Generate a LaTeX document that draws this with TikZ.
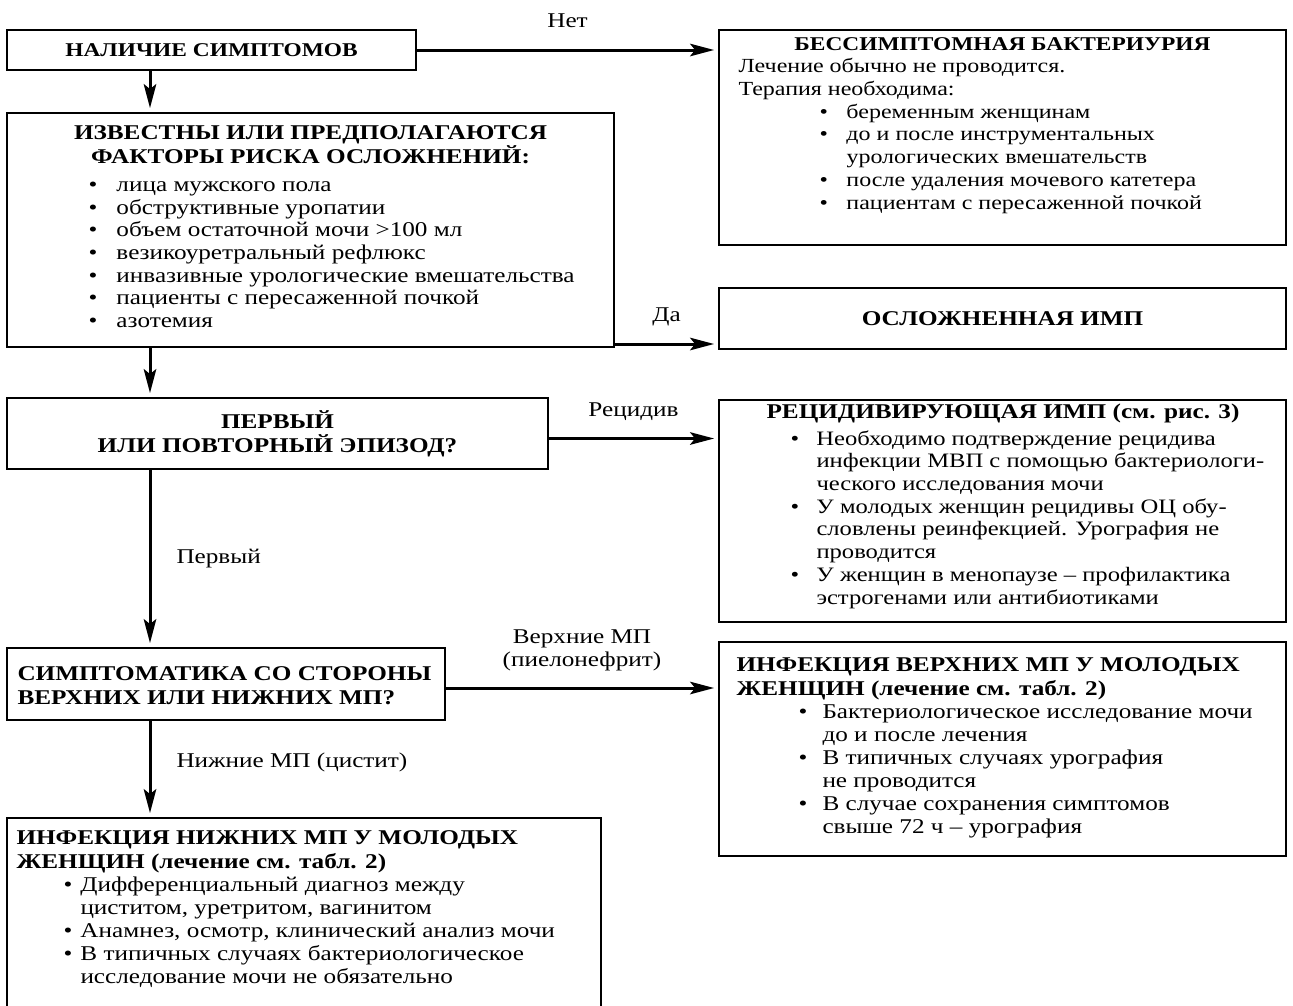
\documentclass[tikz,border=0pt]{standalone}
\usepackage{fontspec}
\setmainfont{Liberation Serif}[FakeStretch=1.2]
\usetikzlibrary{arrows.meta,calc,positioning}

\newcommand{\bul}[1][27pt]{\makebox[#1][l]{\textbullet}}

\begin{document}
\begin{tikzpicture}[x=1pt,y=-1pt,->,>={Stealth[length=24pt,width=12.5pt,inset=5pt]},
  shorten >=3.5pt,line width=3pt,
  box/.style={draw,line width=2.8pt,inner sep=0pt},
  head/.style={font=\bfseries\fontsize{21}{24}\selectfont,align=center,inner sep=0pt},
  headsm/.style={head,font=\bfseries\fontsize{19.5}{24}\selectfont},
  body/.style={font=\fontsize{21}{23}\selectfont,align=left,inner sep=0pt},
  lbl/.style={font=\fontsize{21}{22.7}\selectfont,inner sep=0pt,text height=14pt,text depth=4pt}]

\useasboundingbox (0,0) rectangle (1293,1005);

% boxes
\node[box,headsm,minimum width=409,minimum height=40](sympt) at (211.5,50) {НАЛИЧИЕ СИМПТОМОВ};
\node[box,minimum width=567,minimum height=215](asb) at (1002.5,137.5) {};
\node[box,minimum width=607,minimum height=234](risk) at (310.5,230) {};
\node[box,head,minimum width=567,minimum height=61](compl) at (1002.5,318.5) {ОСЛОЖНЕННАЯ ИМП};
\node[box,head,minimum width=541,minimum height=71](first) at (277.5,433.5) {ПЕРВЫЙ\\ИЛИ ПОВТОРНЫЙ ЭПИЗОД?};
\node[box,minimum width=567,minimum height=222](recur) at (1002.5,511) {};
\node[box,minimum width=438,minimum height=72](side) at (226,684) {};
\node[box,minimum width=567,minimum height=214](upper) at (1002.5,749) {};
\node[box,minimum width=594,minimum height=197](lower) at (304,916.5) {};

% texts in the boxes
\node[headsm](asbT) at (1002.5,44) {БЕССИМПТОМНАЯ БАКТЕРИУРИЯ};
\node[body,font=\fontsize{20}{22.7}\selectfont,anchor=north west](asbL) at (737,57) {Лечение обычно не проводится.\\
  Терапия необходима:\\
  \hspace*{81pt}\bul беременным женщинам\\
  \hspace*{81pt}\bul до и после инструментальных\\
  \hspace*{108pt}урологических вмешательств\\
  \hspace*{81pt}\bul после удаления мочевого катетера\\
  \hspace*{81pt}\bul пациентам с пересаженной почкой};

\node[head](riskT) at (310.5,145) {ИЗВЕСТНЫ ИЛИ ПРЕДПОЛАГАЮТСЯ\\ФАКТОРЫ РИСКА ОСЛОЖНЕНИЙ:};
\node[body,font=\fontsize{21}{22.7}\selectfont,anchor=north west](riskL) at (87,180) {\bul[28pt]лица мужского пола\\
  \bul[28pt]обструктивные уропатии\\
  \bul[28pt]объем остаточной мочи >100 мл\\
  \bul[28pt]везикоуретральный рефлюкс\\
  \bul[28pt]инвазивные урологические вмешательства\\
  \bul[28pt]пациенты с пересаженной почкой\\
  \bul[28pt]азотемия};

\node[head](recT) at (1003,413) {РЕЦИДИВИРУЮЩАЯ ИМП (см. рис. 3)};
\node[body,font=\fontsize{20.5}{22.7}\selectfont,anchor=north west](recL) at (789,429) {\bul[26pt]Необходимо подтверждение рецидива\\
  \hspace*{26pt}инфекции МВП с помощью бактериологи-\\
  \hspace*{26pt}ческого исследования мочи\\
  \bul[26pt]У молодых женщин рецидивы ОЦ обу-\\
  \hspace*{26pt}словлены реинфекцией. Урография не\\
  \hspace*{26pt}проводится\\
  \bul[26pt]У женщин в менопаузе – профилактика\\
  \hspace*{26pt}эстрогенами или антибиотиками};

\node[head,align=left,anchor=west](sideT) at (16,686) {СИМПТОМАТИКА СО СТОРОНЫ\\ВЕРХНИХ ИЛИ НИЖНИХ МП?};

\node[head,align=left,anchor=north west](upT) at (735,656) {ИНФЕКЦИЯ ВЕРХНИХ МП У МОЛОДЫХ\\ЖЕНЩИН (лечение см. табл. 2)};
\node[body,anchor=north west](upL) at (797,703) {\bul[24pt]Бактериологическое исследование мочи\\
  \hspace*{24pt}до и после лечения\\
  \bul[24pt]В типичных случаях урография\\
  \hspace*{24pt}не проводится\\
  \bul[24pt]В случае сохранения симптомов\\
  \hspace*{24pt}свыше 72 ч – урография};

\node[head,align=left,anchor=north west](lowT) at (15,829) {ИНФЕКЦИЯ НИЖНИХ МП У МОЛОДЫХ\\ЖЕНЩИН (лечение см. табл. 2)};
\node[body,anchor=north west](lowL) at (62,875) {\bul[17pt]Дифференциальный диагноз между\\
  \hspace*{17pt}циститом, уретритом, вагинитом\\
  \bul[17pt]Анамнез, осмотр, клинический анализ мочи\\
  \bul[17pt]В типичных случаях бактериологическое\\
  \hspace*{17pt}исследование мочи не обязательно};

% connectors
\coordinate (col) at (150,0);
\coordinate (yes) at (0,344);

\path
(sympt.east) edge node[lbl,above=17pt,name=noL] {Нет} (sympt.east -| asb.west)
(sympt.south -| col) edge (risk.north -| col)
(risk.east |- yes) edge node[lbl,above=17pt,name=yesL] {Да} (compl.west |- yes)
(risk.south -| col) edge (first.north -| col)
($(first.east)+(0,5)$) edge node[lbl,above=17pt,name=recL2] {Рецидив} ($(first.east -| recur.west)+(0,5)$)
(first.south -| col) edge node[lbl,right=25pt,name=firstL] {Первый} (side.north -| col)
($(side.east)+(0,4)$) edge node[lbl,align=center,above=16pt,name=upL2] {Верхние МП\\(пиелонефрит)} ($(side.east -| upper.west)+(0,4)$)
(side.south -| col) edge node[lbl,right=25pt,yshift=7pt,name=lowL2] {Нижние МП (цистит)} (lower.north -| col);

\end{tikzpicture}
\end{document}
